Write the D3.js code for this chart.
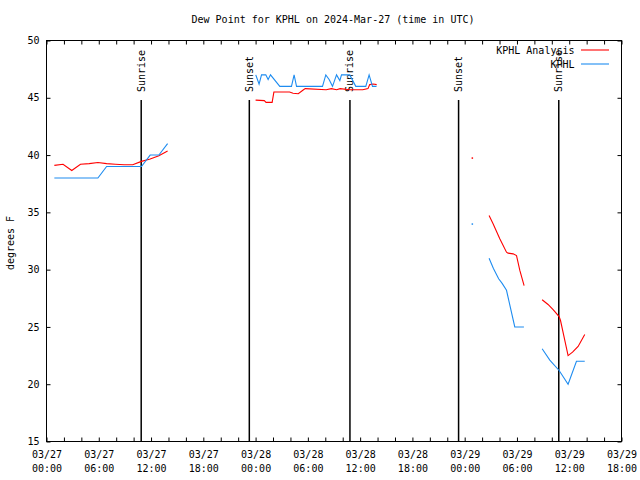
<!DOCTYPE html>
<html>
<head>
<meta charset="utf-8">
<script src="https://cdn.jsdelivr.net/npm/d3@7"></script>
<style>
  body { margin: 0; background: #fff; }
  svg { display: block; }
  text { font-family: "DejaVu Sans Mono", "Liberation Mono", monospace; font-size: 10px; fill: #000; }
</style>
</head>
<body>
<svg id="chart" width="640" height="480"></svg>
<script>
// ---- data (hours since 2024-03-27 00:00 UTC; null breaks a line) ----
const titleText = "Dew Point for KPHL on 2024-Mar-27 (time in UTC)";
const yLabelText = "degrees F";
const seriesNames = ["KPHL Analysis", "KPHL"];
const yTicks = [15, 20, 25, 30, 35, 40, 45, 50];

const analysisHours = [
  0.9, 1.9, 2.9, 3.9, 4.9, 5.9, 6.9, 7.9, 8.9, 9.9, 10.9, 11.9, 12.9, 13.9, 14.5,
  24.0, 25.0, 25.2, 25.9, 26.1, 27.9, 28.3, 28.9, 29.5, 29.7, 32.1, 32.7, 33.3, 33.7, 34.8, 35.4, 36.3, 36.9, 37.1, 37.5, 37.9, 38.3,
  48.85, 49.3,
  50.8, 51.26, 52.03, 52.8, 52.98, 53.56, 53.95, 54.33, 54.82, 55.5,
  56.89, 57.57, 58.15, 58.84, 59.0, 59.87, 60.38, 61.02, 61.78
];
const analysisValues = [
  39.1, 39.2, 38.65, 39.2, 39.25, 39.35, 39.25, 39.2, 39.15, 39.15, 39.45, 39.65, 39.95, 40.35, null,
  44.8, 44.75, 44.6, 44.6, 45.5, 45.5, 45.4, 45.35, 45.7, 45.8, 45.7, 45.8, 45.7, 45.8, 45.7, 45.7, 45.7, 45.8, 46.15, 46.2, 46.15, null,
  39.76, null,
  34.73, 34.0, 32.69, 31.52, 31.44, 31.38, 31.23, 29.93, 28.6, null,
  27.37, 26.96, 26.5, 25.9, 25.56, 22.5, 22.8, 23.3, 24.34
];

const obsHours = [
  0.9, 1.9, 2.9, 3.9, 4.9, 5.9, 6.9, 7.9, 8.9, 9.9, 10.9, 11.9, 12.9, 13.9, 14.5,
  24.02, 24.4, 24.68, 25.17, 25.44, 25.71, 26.78, 28.12, 28.42, 28.7, 31.68, 32.06, 32.44, 32.83, 33.29, 33.67, 33.86, 34.81, 35.5, 36.65, 37.03, 37.42, 37.88, 38.3,
  48.85, 49.3,
  50.8, 51.3, 51.9, 52.3, 52.8, 53.75, 54.8, 55.5,
  56.89, 57.77, 58.84, 59.87, 60.83, 61.78
];
const obsValues = [
  38, 38, 38, 38, 38, 38, 39, 39, 39, 39, 39, 40, 40, 41, null,
  47, 46.2, 47, 47, 46.6, 47, 46, 46, 47, 46, 46, 47, 46.6, 46, 47, 46.5, 47, 47, 46, 46, 47, 46, 46, null,
  34.0, null,
  31, 30.1, 29.2, 28.8, 28.2, 25, 25, null,
  23.1, 22.1, 21.2, 20.0, 22.0, 22.0
];

const sunEventHours = [10.87, 23.28, 34.83, 47.3, 58.8];
const sunEventNames = ["Sunrise", "Sunset", "Sunrise", "Sunset", "Sunrise"];

// ---- drawing ----
const START = Date.UTC(2024, 2, 27, 0, 0);
const toDate = h => new Date(START + h * 3600e3);
const colors = ["#ff0000", "#1e8cf0"];

const svg = d3.select("#chart");
const L = 46.5, R = 621.5, T = 40.5, B = 441.5;

const x = d3.scaleUtc().domain([toDate(0), toDate(66)]).range([L, R]);
const y = d3.scaleLinear().domain([15, 50]).range([B, T]);

svg.append("rect").attr("width", 640).attr("height", 480).attr("fill", "#fff");

// title
svg.append("text").attr("x", 333).attr("y", 23).attr("text-anchor", "middle").text(titleText);

// y label
svg.append("text")
  .attr("transform", "translate(14,243) rotate(-90)")
  .attr("text-anchor", "middle")
  .text(yLabelText);

// axes
const minorTicks = d3.utcHour.every(2).range(toDate(0), toDate(66.01));
const majorTicks = d3.utcHour.every(6).range(toDate(0), toDate(66.01));

svg.append("g").attr("transform", `translate(0,${B})`)
  .call(d3.axisBottom(x).tickValues(minorTicks).tickSize(-4).tickFormat(""));
svg.append("g").attr("transform", `translate(0,${T})`)
  .call(d3.axisTop(x).tickValues(minorTicks).tickSize(-4).tickFormat(""));
const gxl = svg.append("g").attr("transform", `translate(0,${B})`)
  .call(d3.axisBottom(x).tickValues(majorTicks).tickSize(0).tickPadding(0)
    .tickFormat(d => d3.utcFormat("%m/%d")(d) + "|" + d3.utcFormat("%H:%M")(d)));
gxl.selectAll(".tick text").each(function() {
  const parts = d3.select(this).text().split("|");
  const t = d3.select(this).text(null).attr("y", 0).attr("dy", null);
  t.append("tspan").attr("x", 0).attr("y", 16).text(parts[0]);
  t.append("tspan").attr("x", 0).attr("y", 30).text(parts[1]);
});

svg.append("g").attr("transform", `translate(${L},0)`)
  .call(d3.axisLeft(y).tickValues(yTicks).tickSize(-4).tickPadding(7));
svg.append("g").attr("transform", `translate(${R},0)`)
  .call(d3.axisRight(y).tickValues(yTicks).tickSize(-4).tickFormat(""));

svg.selectAll(".domain").remove();
svg.selectAll(".tick line").attr("stroke", "#000").attr("stroke-width", 1);
svg.selectAll(".tick text").attr("font-family", null).attr("font-size", null).attr("fill", "#000");

// border
svg.append("rect").attr("x", L).attr("y", T).attr("width", R - L).attr("height", B - T)
  .attr("fill", "none").attr("stroke", "#000").attr("stroke-width", 1);

// sunrise / sunset markers
sunEventHours.forEach((h, i) => {
  const xx = x(toDate(h));
  svg.append("line").attr("x1", xx).attr("x2", xx).attr("y1", y(44.8)).attr("y2", B)
    .attr("stroke", "#000").attr("stroke-width", 1.5);
  svg.append("text")
    .attr("transform", `translate(${xx + 3.5},92) rotate(-90)`)
    .attr("text-anchor", "start")
    .text(sunEventNames[i]);
});

// series
function drawSeries(hours, values, color) {
  const pts = hours.map((h, i) => ({ t: toDate(h), v: values[i] }));
  const line = d3.line().defined(d => d.v !== null).x(d => x(d.t)).y(d => y(d.v));
  svg.append("path").datum(pts).attr("d", line).attr("fill", "none")
    .attr("stroke", color).attr("stroke-width", 1.1);
  // isolated points
  pts.forEach((d, i) => {
    if (d.v === null) return;
    const prev = i > 0 ? pts[i - 1].v : null;
    const next = i < pts.length - 1 ? pts[i + 1].v : null;
    if (prev === null && next === null) {
      svg.append("rect").attr("x", x(d.t) - 0.5).attr("y", y(d.v) - 0.5)
        .attr("width", 1.5).attr("height", 1.5).attr("fill", color);
    }
  });
}
drawSeries(analysisHours, analysisValues, colors[0]);
drawSeries(obsHours, obsValues, colors[1]);

// legend
const legendRows = [50, 64];
seriesNames.forEach((name, i) => {
  svg.append("text").attr("x", 574.5).attr("y", legendRows[i] + 3.5).attr("text-anchor", "end").text(name);
  svg.append("line").attr("x1", 581).attr("x2", 609).attr("y1", legendRows[i]).attr("y2", legendRows[i])
    .attr("stroke", colors[i]).attr("stroke-width", 1.1);
});
</script>
</body>
</html>
